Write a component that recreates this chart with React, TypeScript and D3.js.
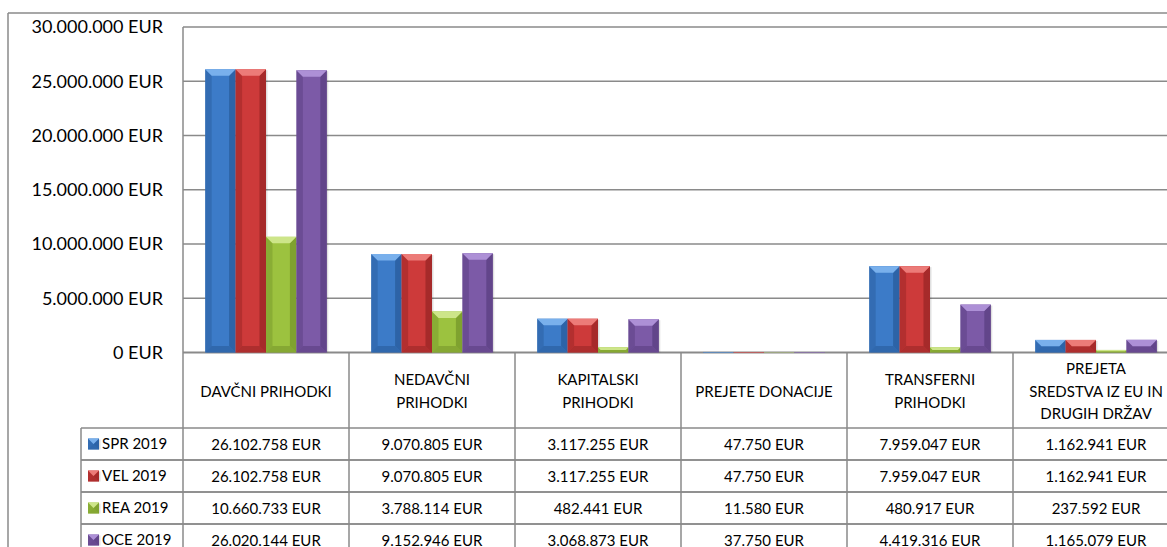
import React from "react";
import * as d3 from "d3";

const categories = [
  ["DAVČNI PRIHODKI"],
  ["NEDAVČNI", "PRIHODKI"],
  ["KAPITALSKI", "PRIHODKI"],
  ["PREJETE DONACIJE"],
  ["TRANSFERNI", "PRIHODKI"],
  ["PREJETA", "SREDSTVA IZ EU IN", "DRUGIH DRŽAV"],
];
const categoryKeys = categories.map((c) => c.join(" "));

const seriesNames = ["SPR 2019", "VEL 2019", "REA 2019", "OCE 2019"];
const spr2019 = [26102758, 9070805, 3117255, 47750, 7959047, 1162941];
const vel2019 = [26102758, 9070805, 3117255, 47750, 7959047, 1162941];
const rea2019 = [10660733, 3788114, 482441, 11580, 480917, 237592];
const oce2019 = [26020144, 9152946, 3068873, 37750, 4419316, 1165079];
const seriesValues = [spr2019, vel2019, rea2019, oce2019];

const seriesColors = [
  { base: "#3c7bc8", light: "#79b0ec", dark: "#275a98" },
  { base: "#cd3a3a", light: "#ec7b78", dark: "#952424" },
  { base: "#9cc23f", light: "#cde589", dark: "#74942a" },
  { base: "#7c5aa7", light: "#ad90d6", dark: "#573c7e" },
];

const W = 1167;
const H = 547;
const FONT = "Lato, 'Liberation Sans', sans-serif";
const GRID = "#8a8a8a";

const locale = d3.formatLocale({ decimal: ",", thousands: ".", grouping: [3], currency: ["", " EUR"] });
const fmt = locale.format(",.0f");
const eur = (v: number) => `${fmt(v)} EUR`;

function Bar({ x, y, w, h, c }: { x: number; y: number; w: number; h: number; c: { base: string; light: string; dark: string } }) {
  const b = Math.max(0, Math.min(6.5, w / 2, h / 2));
  const pts = (arr: number[][]) => arr.map((p) => p.join(",")).join(" ");
  return (
    <g>
      {h > 2 && <rect x={x + 1.5} y={y + 1} width={w} height={h - 1} fill="rgba(0,0,0,0.12)" />}
      <rect x={x} y={y} width={w} height={h} fill={c.base} />
      <polygon points={pts([[x, y], [x + b, y + b], [x + b, y + h - b], [x, y + h]])} fill={c.dark} opacity={0.45} />
      <polygon points={pts([[x + w, y], [x + w - b, y + b], [x + w - b, y + h - b], [x + w, y + h]])} fill={c.dark} opacity={0.7} />
      <polygon points={pts([[x, y + h], [x + b, y + h - b], [x + w - b, y + h - b], [x + w, y + h]])} fill={c.dark} opacity={0.55} />
      <polygon points={pts([[x, y], [x + w, y], [x + w - b, y + b], [x + b, y + b]])} fill={c.light} />
    </g>
  );
}

export default function App() {
  const plotLeft = 183;
  const plotTop = 27;
  const zeroY = 352.5;
  const y = d3.scaleLinear().domain([0, 30000000]).range([zeroY, plotTop]);
  const x0 = d3.scaleBand<string>().domain(categoryKeys).range([plotLeft, plotLeft + 166 * 6]).padding(0);
  const x1 = d3.scaleBand<string>().domain(seriesNames).range([0, x0.bandwidth()]).paddingInner(0).paddingOuter(0.73);
  const headerTop = zeroY;
  const headerBottom = 428;
  const rowScale = d3.scaleBand<string>().domain(seriesNames).range([headerBottom, headerBottom + 32 * 4]);
  const legendLeft = 81;
  const ticks = y.ticks(6);

  return (
    <svg width={W} height={H} style={{ position: "absolute", left: 0, top: 0, display: "block", background: "#fff" }} fontFamily={FONT}>
      {/* outer chart border */}
      <line x1={8} y1={13} x2={W} y2={13} stroke={GRID} strokeWidth={1.5} />
      <line x1={8} y1={13} x2={8} y2={H} stroke={GRID} strokeWidth={1.5} />

      {/* gridlines and tick labels */}
      {ticks.map((t) => (
        <g key={t}>
          <line x1={plotLeft} x2={W} y1={y(t)} y2={y(t)} stroke={GRID} strokeWidth={t === 0 ? 2 : 1.5} />
          <text x={163} y={y(t)} dy="0.35em" textAnchor="end" fontSize={18} fill="#000">
            {eur(t)}
          </text>
        </g>
      ))}
      <line x1={plotLeft} x2={plotLeft} y1={plotTop} y2={H} stroke={GRID} strokeWidth={1.5} />

      {/* bars */}
      {categoryKeys.map((cat, ci) => (
        <g key={cat}>
          {seriesNames.map((s, si) => {
            const v = seriesValues[si][ci];
            const bx = (x0(cat) ?? 0) + (x1(s) ?? 0);
            const by = y(v);
            return <Bar key={s} x={bx} y={by} w={x1.bandwidth()} h={zeroY - by} c={seriesColors[si]} />;
          })}
        </g>
      ))}

      {/* table header */}
      {categoryKeys.map((cat, ci) => {
        const cx = (x0(cat) ?? 0) + x0.bandwidth() / 2;
        const lines = categories[ci];
        const lh = 22.5;
        const mid = (headerTop + headerBottom) / 2 + 1;
        return (
          <g key={cat}>
            <line x1={(x0(cat) ?? 0) + x0.bandwidth()} x2={(x0(cat) ?? 0) + x0.bandwidth()} y1={headerTop} y2={H} stroke={GRID} strokeWidth={1.5} />
            {lines.map((ln, li) => (
              <text key={li} x={cx} y={mid + (li - (lines.length - 1) / 2) * lh} dy="0.35em" textAnchor="middle" fontSize={15} fill="#000">
                {ln}
              </text>
            ))}
          </g>
        );
      })}

      {/* table rows */}
      <line x1={legendLeft} x2={legendLeft} y1={headerBottom} y2={H} stroke={GRID} strokeWidth={1.5} />
      {seriesNames.map((s, si) => {
        const ry = rowScale(s) ?? 0;
        const rh = rowScale.bandwidth();
        const c = seriesColors[si];
        return (
          <g key={s}>
            <line x1={legendLeft} x2={W} y1={ry} y2={ry} stroke={GRID} strokeWidth={1.5} />
            <line x1={legendLeft} x2={W} y1={ry + rh} y2={ry + rh} stroke={GRID} strokeWidth={1.5} />
            <Bar x={88} y={ry + rh / 2 - 5.5} w={11} h={11} c={c} />
            <text x={102} y={ry + rh / 2} dy="0.35em" fontSize={15} fill="#000">
              {s}
            </text>
            {categoryKeys.map((cat, ci) => (
              <text key={cat} x={(x0(cat) ?? 0) + x0.bandwidth() / 2} y={ry + rh / 2 + 1} dy="0.35em" textAnchor="middle" fontSize={15} fill="#000">
                {eur(seriesValues[si][ci])}
              </text>
            ))}
          </g>
        );
      })}
    </svg>
  );
}
